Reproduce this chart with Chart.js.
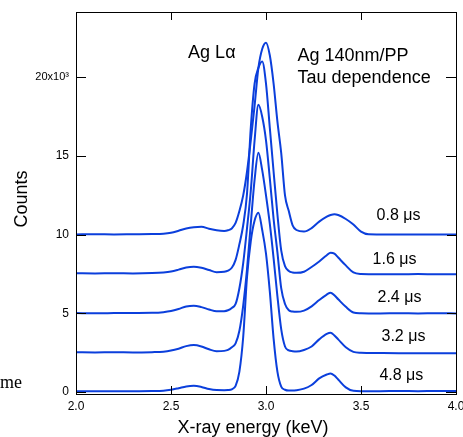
<!DOCTYPE html>
<html>
<head>
<meta charset="utf-8">
<script src="https://cdn.jsdelivr.net/npm/chart.js@4.4.1/dist/chart.umd.min.js"></script>
<style>
  body { margin: 0; background: #fff; }
  #spectrumChart { display: block; }
</style>
</head>
<body>
<canvas id="spectrumChart" width="463" height="437"></canvas>
<script>
// X-ray energy grid (keV)
const energies = [
    2.00, 2.10, 2.20, 2.30, 2.40, 2.46,
    2.50, 2.54, 2.58, 2.62, 2.66, 2.70, 2.74, 2.78,
    2.80, 2.82, 2.84, 2.86, 2.88, 2.90, 2.92, 2.94, 2.96, 2.98, 3.00, 3.02, 3.04, 3.06, 3.08, 3.10, 3.12, 3.14, 3.16,
    3.20, 3.24, 3.28, 3.32, 3.34, 3.36, 3.38, 3.42, 3.46, 3.50, 3.54,
    3.60, 3.70, 3.80, 3.90, 4.00
];

// counts (x10^3) as plotted, each spectrum shifted up like in the figure
const counts08 = [
    10.02, 10.03, 10.02, 10.03, 10.04, 10.06,
    10.12, 10.25, 10.40, 10.48, 10.50, 10.38, 10.28, 10.24,
    10.28, 10.40, 10.75, 11.50, 12.50, 14.00, 16.00, 18.20, 20.60, 21.80, 22.20, 21.40, 19.60, 17.20, 15.20, 12.50, 11.50, 10.60, 10.30,
    10.20, 10.42, 10.83, 11.15, 11.25, 11.30, 11.25, 11.00, 10.65, 10.20, 10.03,
    10.02, 10.02, 10.01, 10.02, 10.02
];
const counts16 = [
    7.55, 7.54, 7.55, 7.54, 7.56, 7.60,
    7.66, 7.78, 7.92, 7.97, 7.90, 7.76, 7.62, 7.65,
    7.72, 7.90, 8.40, 9.40, 10.60, 12.60, 16.80, 19.60, 20.60, 21.00, 19.60, 16.80, 14.00, 11.30, 9.00, 8.00, 7.70, 7.60, 7.58,
    7.65, 7.95, 8.30, 8.70, 8.86, 8.80, 8.55, 8.05, 7.60, 7.50, 7.49,
    7.49, 7.49, 7.50, 7.49, 7.49
];
const counts24 = [
    5.02, 5.01, 5.02, 5.03, 5.04, 5.08,
    5.15, 5.28, 5.44, 5.49, 5.40, 5.25, 5.13, 5.14,
    5.20, 5.35, 5.60, 6.60, 8.20, 10.40, 12.80, 16.00, 18.25, 17.50, 16.00, 13.60, 11.00, 8.90, 6.60, 5.60, 5.20, 5.12, 5.10,
    5.18, 5.45, 5.85, 6.20, 6.32, 6.15, 5.90, 5.42, 5.06, 5.01, 5.00,
    5.00, 5.01, 5.00, 5.01, 5.00
];
const counts32 = [
    2.53, 2.52, 2.53, 2.52, 2.54, 2.57,
    2.64, 2.76, 2.92, 2.99, 2.90, 2.72, 2.60, 2.62,
    2.68, 2.85, 3.10, 3.90, 5.50, 7.80, 10.70, 13.50, 15.20, 14.10, 12.50, 10.70, 8.50, 6.10, 4.00, 2.90, 2.65, 2.60, 2.58,
    2.68, 2.90, 3.35, 3.70, 3.77, 3.60, 3.35, 2.85, 2.56, 2.50, 2.49,
    2.48, 2.47, 2.47, 2.47, 2.47
];
const counts48 = [
    0.05, 0.06, 0.05, 0.06, 0.07, 0.09,
    0.15, 0.25, 0.36, 0.40, 0.33, 0.20, 0.13, 0.12,
    0.13, 0.18, 0.40, 1.30, 3.50, 7.30, 9.60, 10.90, 11.40, 10.30, 8.80, 6.40, 3.40, 1.30, 0.35, 0.15, 0.10, 0.10, 0.12,
    0.22, 0.45, 0.87, 1.12, 1.19, 1.05, 0.80, 0.30, 0.08, 0.06, 0.06,
    0.06, 0.07, 0.06, 0.07, 0.07
];

const tauLabels = ['0.8 μs', '1.6 μs', '2.4 μs', '3.2 μs', '4.8 μs'];
const xTicks = [2.0, 2.5, 3.0, 3.5, 4.0];
const yTicks = [0, 5, 10, 15, 20];

const X_MIN = 2, X_MAX = 4, Y_MIN = -0.12, Y_MAX = 24.15;
const FONT = "'Liberation Sans', Arial, sans-serif";
const LINE_COLOR = '#0b3fdc';

const allCounts = [counts08, counts16, counts24, counts32, counts48];

// text placed in data coordinates [text, keV, counts x10^3]
const notes = [
    ['Ag Lα', 2.59, 21.55],
    ['Ag 140nm/PP', 3.166, 21.35],
    ['Tau dependence', 3.166, 19.95]
];
const tauPos = [[3.582, 11.2], [3.561, 8.45], [3.587, 6.03], [3.608, 3.5], [3.597, 1.08]];

const textAndFrame = {
    id: 'textAndFrame',
    afterDraw(chart) {
        const ctx = chart.ctx;
        const a = chart.chartArea;
        const xs = chart.scales.x, ys = chart.scales.y;
        ctx.save();
        ctx.fillStyle = '#000';
        ctx.textAlign = 'left';
        ctx.textBaseline = 'middle';
        ctx.font = '18px ' + FONT;
        notes.forEach(n => ctx.fillText(n[0], xs.getPixelForValue(n[1]), ys.getPixelForValue(n[2])));

        ctx.font = '16px ' + FONT;
        tauLabels.forEach((txt, i) => {
            ctx.fillText(txt, xs.getPixelForValue(tauPos[i][0]), ys.getPixelForValue(tauPos[i][1]));
        });

        ctx.font = '18px ' + FONT;
        ctx.textAlign = 'center';
        ctx.fillText('X-ray energy (keV)', 253, 428);
        ctx.save();
        ctx.translate(22, 199);
        ctx.rotate(-Math.PI / 2);
        ctx.fillText('Counts', 0, 0);
        ctx.restore();

        // cut-off word from the surrounding page
        ctx.textAlign = 'left';
        ctx.textBaseline = 'alphabetic';
        ctx.font = "18px 'Liberation Serif', 'Times New Roman', serif";
        ctx.fillText('me', 0, 388);

        // plot frame with inward ticks
        const l = Math.round(a.left), r = Math.round(a.right);
        const t = Math.round(a.top), b = Math.round(a.bottom);
        ctx.fillRect(l, t, r - l + 1, 1);
        ctx.fillRect(l, b, r - l + 1, 1);
        ctx.fillRect(l, t, 1, b - t + 1);
        ctx.fillRect(r, t, 1, b - t + 1);
        xTicks.forEach(v => {
            const px = Math.round(xs.getPixelForValue(v));
            ctx.fillRect(px, b - 8, 1, 8);
            ctx.fillRect(px, t, 1, 8);
        });
        yTicks.forEach(v => {
            const py = Math.round(ys.getPixelForValue(v));
            ctx.fillRect(l, py, 10, 1);
            ctx.fillRect(r - 9, py, 10, 1);
        });
        ctx.restore();
    }
};

function frameAxis(extra, tickLen) {
    return Object.assign({
        type: 'linear',
        border: { display: true, color: '#000', width: 1 },
        grid: { display: true, drawOnChartArea: false, drawTicks: true, tickLength: tickLen, color: '#000', lineWidth: 1 }
    }, extra);
}

new Chart(document.getElementById('spectrumChart'), {
    type: 'line',
    data: {
        datasets: allCounts.map((arr, i) => ({
            label: tauLabels[i],
            data: arr.map((v, j) => ({ x: energies[j], y: v })),
            borderColor: LINE_COLOR,
            borderWidth: 2,
            pointRadius: 0,
            fill: false,
            cubicInterpolationMode: 'monotone'
        }))
    },
    options: {
        responsive: false,
        animation: false,
        devicePixelRatio: 1,
        layout: { padding: { top: 12, right: 7, left: 0, bottom: 0 } },
        plugins: {
            legend: { display: false },
            tooltip: { enabled: false }
        },
        scales: {
            x: frameAxis({
                position: 'bottom',
                min: X_MIN,
                max: X_MAX,
                afterBuildTicks: s => { s.ticks = xTicks.map(v => ({ value: v })); },
                afterFit: s => { s.height = 43; s.paddingLeft = 0; s.paddingRight = 0; },
                ticks: {
                    padding: 13,
                    color: '#000',
                    autoSkip: false,
                    maxRotation: 0,
                    font: { family: FONT, size: 12 },
                    callback: v => Number(v).toFixed(1)
                }
            }, -8),
            xTop: frameAxis({
                position: 'top',
                min: X_MIN,
                max: X_MAX,
                afterBuildTicks: s => { s.ticks = xTicks.map(v => ({ value: v })); },
                afterFit: s => { s.height = 0; s.paddingLeft = 0; s.paddingRight = 0; },
                ticks: { display: false }
            }, -8),
            y: frameAxis({
                position: 'left',
                min: Y_MIN,
                max: Y_MAX,
                afterBuildTicks: s => { s.ticks = yTicks.map(v => ({ value: v })); },
                afterFit: s => { s.width = 76; s.paddingTop = 0; s.paddingBottom = 0; },
                ticks: {
                    padding: 17,
                    color: '#000',
                    autoSkip: false,
                    font: ctx => ({ family: FONT, size: ctx.tick && ctx.tick.value === 20 ? 11 : 12 }),
                    callback: v => (v === 20 ? '20x10³' : String(v))
                }
            }, -10),
            yRight: frameAxis({
                position: 'right',
                min: Y_MIN,
                max: Y_MAX,
                afterBuildTicks: s => { s.ticks = yTicks.map(v => ({ value: v })); },
                afterFit: s => { s.width = 0; s.paddingTop = 0; s.paddingBottom = 0; },
                ticks: { display: false }
            }, -10)
        }
    },
    plugins: [textAndFrame]
});
</script>
</body>
</html>
